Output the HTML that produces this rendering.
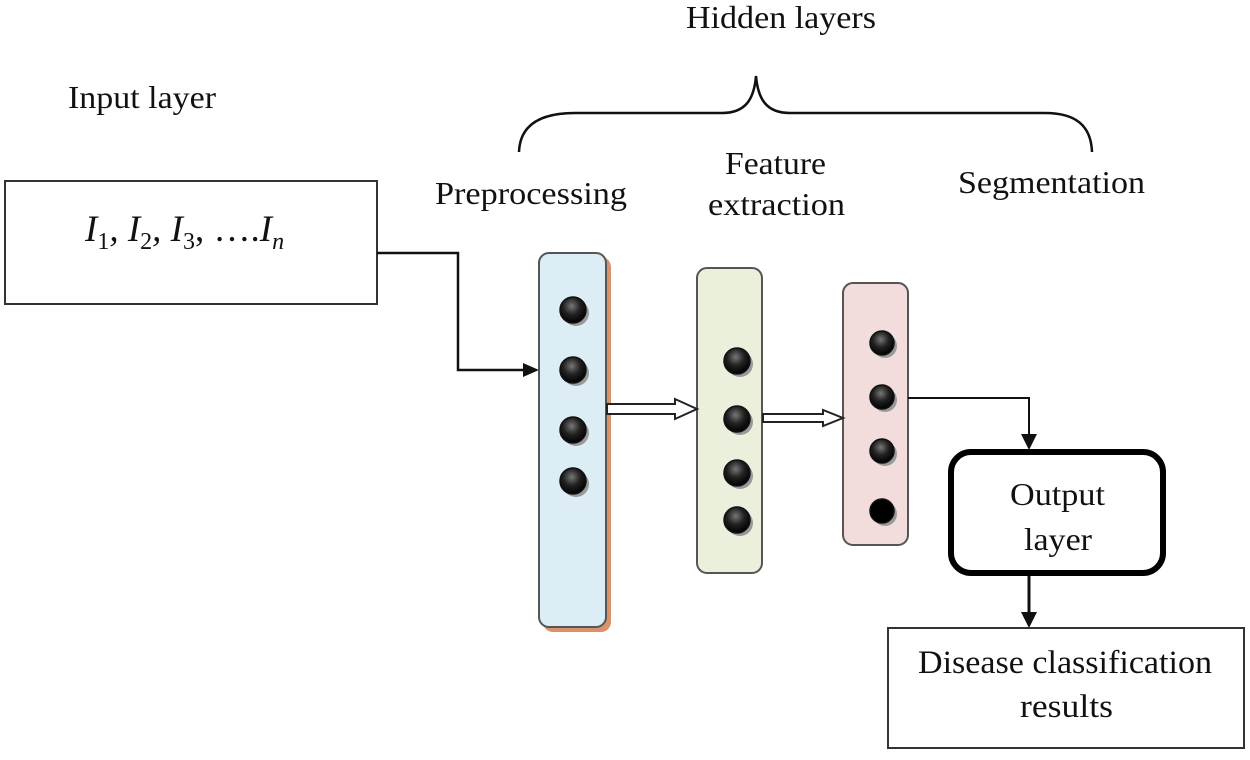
<!DOCTYPE html>
<html><head><style>
body{margin:0;background:#fff;}
svg text{font-family:"Liberation Serif",serif;fill:#111;}
</style></head><body>
<svg width="1250" height="755" viewBox="0 0 1250 755" xmlns="http://www.w3.org/2000/svg">
<defs>
<radialGradient id="dot" cx="0.45" cy="0.35" r="0.65">
<stop offset="0" stop-color="#777"/><stop offset="0.5" stop-color="#222"/><stop offset="1" stop-color="#000"/>
</radialGradient>
</defs>
<text x="686" y="28" font-size="32" textLength="190" lengthAdjust="spacingAndGlyphs">Hidden layers</text>
<text x="68" y="108" font-size="32" textLength="148" lengthAdjust="spacingAndGlyphs">Input layer</text>
<path d="M519,152 C520,125 540,113 575,113 L722,113 C745,113 754,100 756,76 C758,100 767,113 790,113 L1045,113 C1075,113 1091,125 1092,152" fill="none" stroke="#111" stroke-width="2.5"/>
<text x="435" y="204" font-size="32" textLength="192" lengthAdjust="spacingAndGlyphs">Preprocessing</text>
<text x="725" y="174" font-size="32" textLength="101" lengthAdjust="spacingAndGlyphs">Feature</text>
<text x="708" y="215" font-size="32" textLength="137" lengthAdjust="spacingAndGlyphs">extraction</text>
<text x="958" y="193" font-size="32" textLength="187" lengthAdjust="spacingAndGlyphs">Segmentation</text>
<rect x="5" y="181" width="372" height="123" fill="#fff" stroke="#333" stroke-width="2"/>
<text x="85" y="241" font-size="37" font-style="italic">I<tspan font-size="24" dy="8" font-style="normal">1</tspan><tspan dy="-8">, I</tspan><tspan font-size="24" dy="8" font-style="normal">2</tspan><tspan dy="-8">, I</tspan><tspan font-size="24" dy="8" font-style="normal">3</tspan><tspan dy="-8" font-style="normal">, ….</tspan><tspan dy="0">I</tspan><tspan font-size="24" dy="8">n</tspan></text>
<polyline points="377,253 458,253 458,370 525,370" fill="none" stroke="#111" stroke-width="2.5"/>
<polygon points="539,370 523,363 523,377" fill="#111"/>
<rect x="543" y="257" width="68" height="375" rx="10" fill="#d9926a"/>
<rect x="539" y="253" width="67" height="374" rx="10" fill="#dcedf5" stroke="#555" stroke-width="2"/>
<rect x="697" y="268" width="65" height="305" rx="10" fill="#ebf0dc" stroke="#555" stroke-width="2"/>
<rect x="843" y="283" width="65" height="262" rx="10" fill="#f2dcdc" stroke="#555" stroke-width="2"/>
<g stroke="#111" stroke-width="1.5">
<circle cx="576" cy="313" r="13" fill="#999" stroke="none"/><circle cx="573" cy="310" r="13" fill="url(#dot)"/>
<circle cx="576" cy="373" r="13" fill="#999" stroke="none"/><circle cx="573" cy="370" r="13" fill="url(#dot)"/>
<circle cx="576" cy="433" r="13" fill="#999" stroke="none"/><circle cx="573" cy="430" r="13" fill="url(#dot)"/>
<circle cx="576" cy="484" r="13" fill="#999" stroke="none"/><circle cx="573" cy="481" r="13" fill="url(#dot)"/>
<circle cx="740" cy="364" r="13" fill="#999" stroke="none"/><circle cx="737" cy="361" r="13" fill="url(#dot)"/>
<circle cx="740" cy="422" r="13" fill="#999" stroke="none"/><circle cx="737" cy="419" r="13" fill="url(#dot)"/>
<circle cx="740" cy="476" r="13" fill="#999" stroke="none"/><circle cx="737" cy="473" r="13" fill="url(#dot)"/>
<circle cx="740" cy="523" r="13" fill="#999" stroke="none"/><circle cx="737" cy="520" r="13" fill="url(#dot)"/>
<circle cx="885" cy="346" r="12" fill="#999" stroke="none"/><circle cx="882" cy="343" r="12" fill="url(#dot)"/>
<circle cx="885" cy="400" r="12" fill="#999" stroke="none"/><circle cx="882" cy="397" r="12" fill="url(#dot)"/>
<circle cx="885" cy="454" r="12" fill="#999" stroke="none"/><circle cx="882" cy="451" r="12" fill="url(#dot)"/>
<circle cx="885" cy="514" r="12" fill="#999" stroke="none"/><circle cx="882" cy="511" r="12" fill="#000"/>
</g>
<polygon points="607,404 675,404 675,399 697,409 675,419 675,414 607,414" fill="#fff" stroke="#222" stroke-width="2"/>
<polygon points="763,414 823,414 823,410 843,418 823,426 823,422 763,422" fill="#fff" stroke="#222" stroke-width="2"/>
<polyline points="908,398 1029,398 1029,435" fill="none" stroke="#111" stroke-width="2"/>
<polygon points="1029,450 1021,434 1037,434" fill="#111"/>
<rect x="951" y="452" width="212" height="121" rx="20" fill="#fff" stroke="#000" stroke-width="6"/>
<text x="1010" y="505" font-size="32" textLength="95" lengthAdjust="spacingAndGlyphs">Output</text>
<text x="1024" y="550" font-size="32" textLength="68" lengthAdjust="spacingAndGlyphs">layer</text>
<line x1="1029" y1="576" x2="1029" y2="612" stroke="#111" stroke-width="3"/>
<polygon points="1029,628 1021,612 1037,612" fill="#111"/>
<rect x="888" y="628" width="356" height="120" fill="#fff" stroke="#333" stroke-width="2"/>
<text x="918" y="673" font-size="33" textLength="294" lengthAdjust="spacingAndGlyphs">Disease classification</text>
<text x="1020" y="717" font-size="33" textLength="93" lengthAdjust="spacingAndGlyphs">results</text>
</svg>
</body></html>
